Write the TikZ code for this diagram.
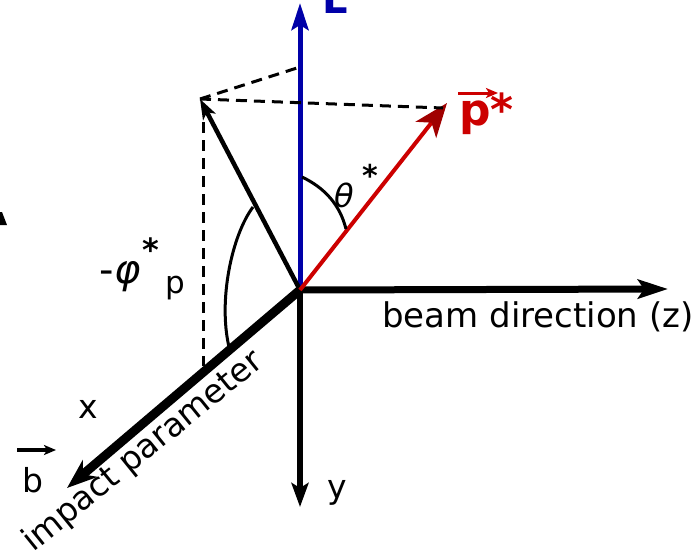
\documentclass[tikz,border=0pt]{standalone}
\usepackage{fontspec}
\setmainfont{DejaVu Sans}
\usetikzlibrary{arrows.meta}
\definecolor{lblue}{HTML}{0000A8}
\definecolor{pred}{HTML}{CC0000}
\definecolor{pdred}{HTML}{A00000}
\tikzset{
  fs/.style={font=\fontsize{#1}{#1}\selectfont},
  fsb/.style={font=\fontsize{#1}{#1}\selectfont\bfseries},
  fsi/.style={font=\fontsize{#1}{#1}\selectfont\itshape},
  lbl/.style={inner sep=0pt, anchor=base west},
  dash line/.style={line width=3pt, dash pattern=on 11pt off 7pt},
  arcline/.style={line width=3pt},
}
\begin{document}
\begin{tikzpicture}[x=1pt,y=-1pt]
\useasboundingbox (0,0) rectangle (696,555);
\clip (0,0) rectangle (696,555);
% key points
\coordinate (O) at (300,290);
\coordinate (Ltip) at (300,3);
\coordinate (Ztip) at (668,289);
\coordinate (Ytip) at (300,507);
\coordinate (Btip) at (67,488);
\coordinate (Q) at (200,99);
\coordinate (Qd) at (203,104);
\coordinate (P) at (447,103);
\coordinate (Pd) at (443,108);
\coordinate (LQ) at (300,67);
\coordinate (XQ) at (203,366);
% axes
\draw[lblue, line width=5pt, -{Stealth[length=27pt,width=17pt,inset=5pt]}] (O) -- (Ltip);
\draw[black, line width=7pt, -{Stealth[length=30pt,width=19pt,inset=6pt]}] (O) -- (Ztip);
\draw[black, line width=6pt, -{Stealth[length=24pt,width=17pt,inset=5pt]}] (O) -- (Ytip);
\draw[black, line width=9pt, -{Stealth[length=30pt,width=22pt,inset=9pt]}] (O) -- (Btip);
% projection vector
\draw[black, line width=4.5pt, -{Stealth[length=20pt,width=14pt,inset=5pt]}] (O) -- (Q);
% p* vector
\draw[pred, line width=4pt, -{Stealth[length=34pt,width=26pt,inset=9pt,color=pdred]}] (O) -- (P);
% dashed helper lines
\draw[dash line] (Q) -- (LQ);
\draw[dash line] (Q) -- (Pd);
\draw[dash line] (Qd) -- (XQ);
% angle arcs
\draw[arcline] (253,207) .. controls (232,235) and (218,300) .. (229,347);
\draw[arcline] (302,177) .. controls (325,188) and (340,205) .. (346,229);
% labels
\node[lbl, fsb=40, text=lblue] (Llab) at (322,13) {L};
\node[lbl, fsb=44, text=pred] (plab) at (459,125) {p*};
\coordinate (pa1) at (458,93);
\coordinate (pa2) at (498,93);
\draw[pred, line width=3pt, -{Stealth[length=12pt,width=10pt,inset=3pt]}] (pa1) -- (pa2);
\node[fsi=32] (th) at (344,195) {θ};
\node[fsb=30] (thst) at (370,175) {*};
\node[fs=40] (phi) at (120,277) {-\itshape φ};
\node[fsb=32] (phst) at (151,250) {*};
\node[lbl, fs=31] (phsub) at (165,293) {p};
\node[lbl, fs=34] (beam) at (382,327) {beam direction (z)};
\node[lbl, fs=33] (ylab) at (327,498) {y};
\node[lbl, fs=33] (xlab) at (78,418) {x};
\node[lbl, fs=33] (blab) at (22,492) {b};
\coordinate (ba1) at (17,450);
\coordinate (ba2) at (56,450);
\draw[black, line width=4pt, -{Stealth[length=12pt,width=10pt,inset=3pt]}] (ba1) -- (ba2);
\node[lbl, fs=33, rotate=39] (imp) at (33,553) {impact parameter};
% clipped glyph fragment at left edge
\fill (0,212) -- (2,212) -- (7,225) -- (0,225) -- cycle;
\end{tikzpicture}
\end{document}
